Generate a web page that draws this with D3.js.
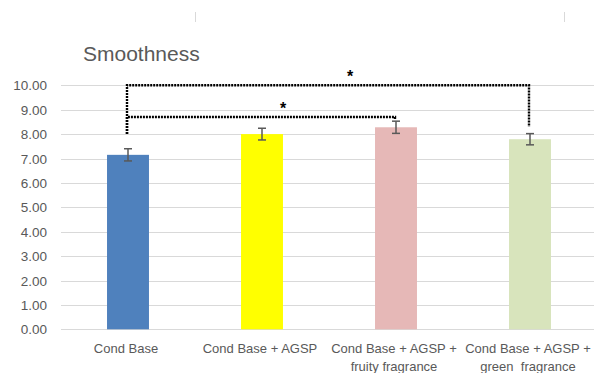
<!DOCTYPE html>
<html>
<head>
<meta charset="utf-8">
<script src="https://cdn.jsdelivr.net/npm/d3@7"></script>
<style>
  html, body { margin: 0; padding: 0; background: #fff; }
  text { font-family: "Liberation Sans", "DejaVu Sans", sans-serif; }
</style>
</head>
<body>
<div id="chart"></div>
<script>
// data
const categories = [
  ["Cond Base"],
  ["Cond Base + AGSP"],
  ["Cond Base + AGSP +", "fruity fragrance"],
  ["Cond Base + AGSP +", "green  fragrance"]
];
const values = [7.15, 8.00, 8.28, 7.79];
const errors = [0.25, 0.24, 0.25, 0.23];
const colors = ["#4f81bd", "#ffff00", "#e6b8b7", "#d8e4bc"];
const yTicks = [0, 1, 2, 3, 4, 5, 6, 7, 8, 9, 10];

// significance brackets: from bar, to bar, top level, left end, right end
const bracketFrom = [0, 0];
const bracketTo = [3, 2];
const bracketLevel = [10.0, 8.7];
const bracketLeftEnd = [8.0, 8.0];
const bracketRightEnd = [8.3, 8.62];

const width = 594;
const height = 373;

const svg = d3.select("#chart")
  .append("svg")
  .attr("width", width)
  .attr("height", height);

const x = d3.scaleBand()
  .domain(d3.range(categories.length))
  .range([61, 597])
  .paddingInner(0.687)
  .paddingOuter(0.3435);

const y = d3.scaleLinear()
  .domain([0, 10])
  .range([329.3, 85.3]);

// stray cell border marks at the top
svg.selectAll("line.mark")
  .data([195.5, 564.5])
  .join("line")
  .attr("x1", d => d).attr("x2", d => d)
  .attr("y1", 12).attr("y2", 22)
  .attr("stroke", "#d9d9d9");

// title
svg.append("text")
  .attr("x", 83)
  .attr("y", 61)
  .attr("fill", "#595959")
  .attr("font-size", "21px")
  .text("Smoothness");

// gridlines
svg.selectAll("line.grid")
  .data(yTicks)
  .join("line")
  .attr("class", "grid")
  .attr("x1", 61).attr("x2", 597)
  .attr("y1", d => Math.round(y(d)) + 0.5)
  .attr("y2", d => Math.round(y(d)) + 0.5)
  .attr("stroke", "#d9d9d9")
  .attr("stroke-width", 1);

// y labels
svg.selectAll("text.ytick")
  .data(yTicks)
  .join("text")
  .attr("class", "ytick")
  .attr("x", 47)
  .attr("y", d => y(d) + 5)
  .attr("text-anchor", "end")
  .attr("fill", "#595959")
  .attr("font-size", "13.5px")
  .text(d => d.toFixed(2));

// bars
svg.selectAll("rect.bar")
  .data(values)
  .join("rect")
  .attr("class", "bar")
  .attr("x", (d, i) => x(i))
  .attr("y", d => y(d))
  .attr("width", x.bandwidth())
  .attr("height", d => y(0) - y(d))
  .attr("fill", (d, i) => colors[i]);

// error bars
const eb = svg.selectAll("g.err")
  .data(values)
  .join("g")
  .attr("class", "err")
  .attr("stroke", "#595959")
  .attr("stroke-width", 1.5);

eb.append("line")
  .attr("x1", (d, i) => x(i) + x.bandwidth() / 2)
  .attr("x2", (d, i) => x(i) + x.bandwidth() / 2)
  .attr("y1", (d, i) => y(d + errors[i]))
  .attr("y2", (d, i) => y(d - errors[i]));
eb.append("line")
  .attr("x1", (d, i) => x(i) + x.bandwidth() / 2 - 4)
  .attr("x2", (d, i) => x(i) + x.bandwidth() / 2 + 4)
  .attr("y1", (d, i) => y(d + errors[i]))
  .attr("y2", (d, i) => y(d + errors[i]));
eb.append("line")
  .attr("x1", (d, i) => x(i) + x.bandwidth() / 2 - 4)
  .attr("x2", (d, i) => x(i) + x.bandwidth() / 2 + 4)
  .attr("y1", (d, i) => y(d - errors[i]))
  .attr("y2", (d, i) => y(d - errors[i]));

// x labels
svg.selectAll("text.xlab")
  .data(categories)
  .join("text")
  .attr("class", "xlab")
  .attr("text-anchor", "middle")
  .attr("fill", "#595959")
  .attr("font-size", "13px")
  .style("white-space", "pre")
  .selectAll("tspan")
  .data((d, i) => d.map(t => ({ t, i })))
  .join("tspan")
  .attr("x", d => x(d.i) + x.bandwidth() / 2 - 2)
  .attr("y", (d, j) => 353 + j * 17.5)
  .text(d => d.t);

// significance brackets
const cx = i => x(i) + x.bandwidth() / 2 - 1;
bracketFrom.forEach((f, k) => {
  const t = bracketTo[k];
  const lv = y(bracketLevel[k]);
  svg.append("path")
    .attr("d", `M${cx(f)},${y(bracketLeftEnd[k])}V${lv}H${cx(t)}V${y(bracketRightEnd[k])}`)
    .attr("fill", "none")
    .attr("stroke", "#000")
    .attr("stroke-width", 2.4)
    .attr("stroke-dasharray", "2,1");
  svg.append("text")
    .attr("x", (cx(f) + cx(t)) / 2 + 22)
    .attr("y", lv - 3)
    .attr("text-anchor", "middle")
    .attr("font-size", "16px")
    .attr("font-weight", "bold")
    .attr("fill", "#000")
    .text("*");
});
</script>
</body>
</html>
